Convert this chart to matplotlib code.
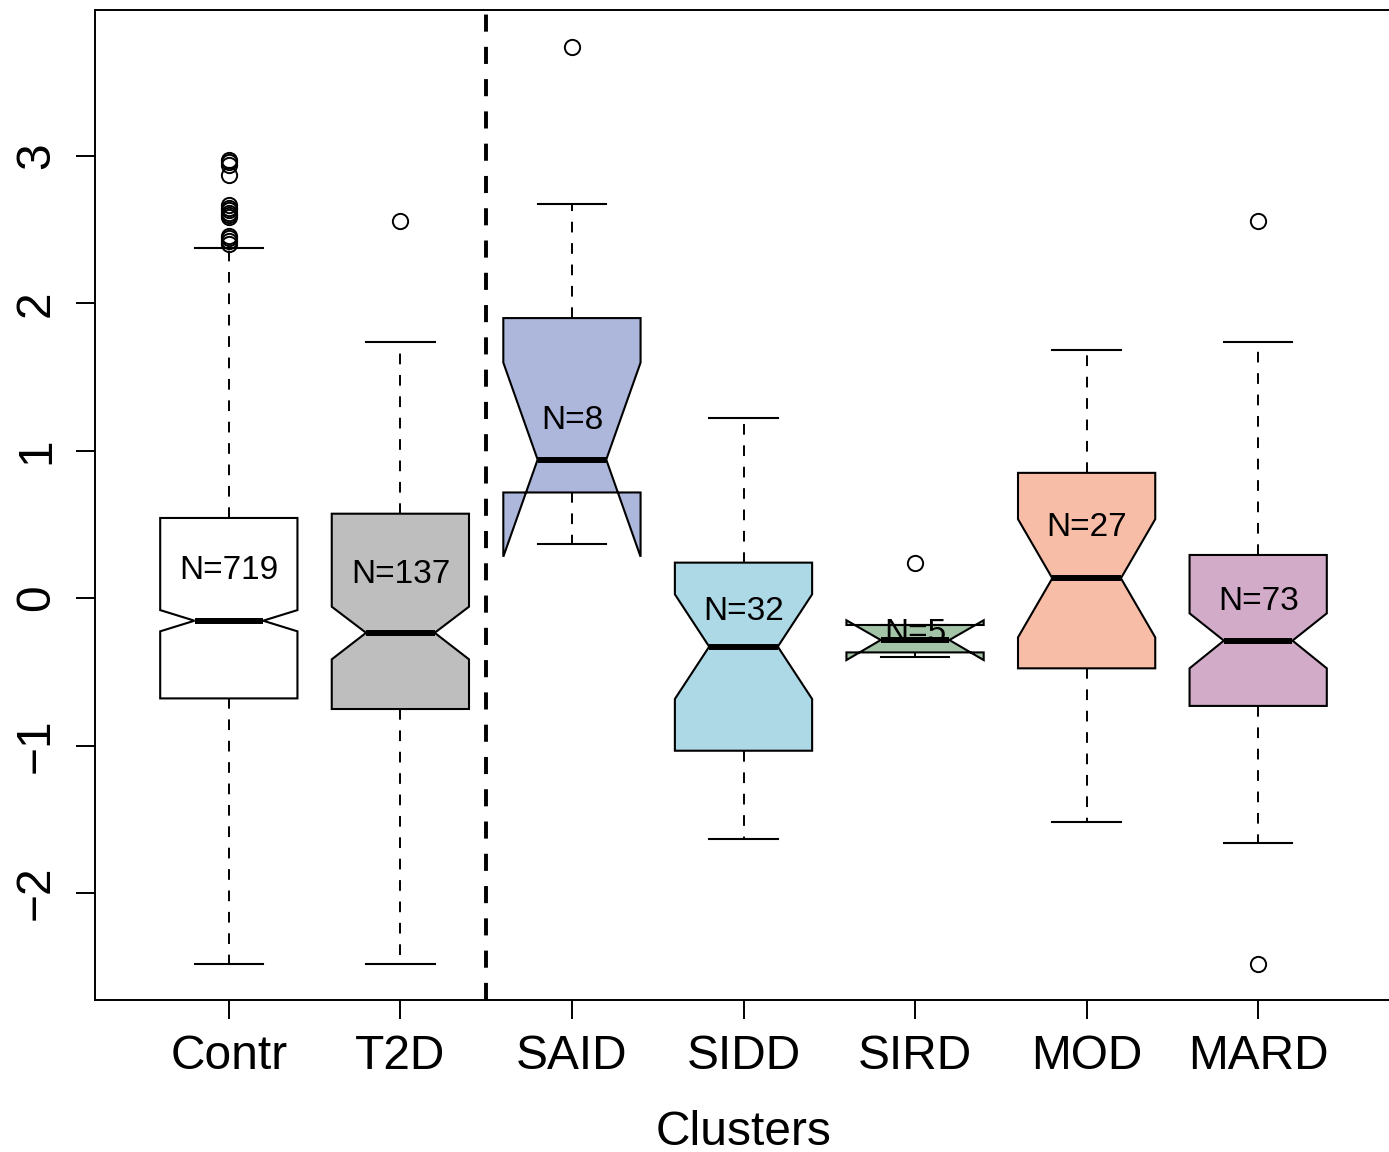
import matplotlib
matplotlib.use("Agg")
import matplotlib.pyplot as plt

# ---- data ----
groups = ["Contr", "T2D", "SAID", "SIDD", "SIRD", "MOD", "MARD"]
n_obs = [719, 137, 8, 32, 5, 27, 73]
whislo = [-2.483, -2.483, 0.368, -1.632, -0.397, -1.518, -1.660]
q1 = [-0.680, -0.752, 0.717, -1.035, -0.368, -0.476, -0.731]
med = [-0.153, -0.235, 0.940, -0.329, -0.284, 0.135, -0.288]
q3 = [0.544, 0.573, 1.900, 0.241, -0.182, 0.850, 0.293]
whishi = [2.378, 1.738, 2.671, 1.222, -0.182, 1.683, 1.740]
cilo = [-0.225, -0.415, 0.281, -0.684, -0.420, -0.266, -0.476]
cihi = [-0.081, -0.058, 1.598, 0.026, -0.150, 0.536, -0.103]
outliers = [
    [2.975, 2.96, 2.94, 2.87, 2.67, 2.65, 2.63, 2.61, 2.60, 2.585,
     2.454, 2.44, 2.42, 2.40],
    [2.558],
    [3.741],
    [],
    [0.241],
    [],
    [2.559, -2.484],
]
label_y = [0.185, 0.158, 1.206, -0.089, -0.24, 0.477, -0.02]
colors = ["#ffffff", "#bebebe", "#adb7dc", "#add8e6", "#a3c4a6", "#f8bda6", "#d2abc8"]
yticks = [-2, -1, 0, 1, 2, 3]

plt.rcParams['font.family'] = ['Liberation Sans', 'DejaVu Sans']

fig = plt.figure(figsize=(13.89, 11.52), dpi=100)
ax = fig.add_axes([95 / 1389, 1 - 1000 / 1152, (1392 - 95) / 1389, (1000 - 10) / 1152])

stats = []
for i, g in enumerate(groups):
    stats.append(dict(label=g, whislo=whislo[i], q1=q1[i], med=med[i], q3=q3[i],
                      whishi=whishi[i], cilo=cilo[i], cihi=cihi[i],
                      fliers=outliers[i]))

positions = list(range(1, len(groups) + 1))
res = ax.bxp(stats, positions=positions, widths=0.8, shownotches=True,
             patch_artist=True,
             boxprops=dict(linewidth=1.5, edgecolor='black'),
             whiskerprops=dict(linestyle=(0, (5.5, 5.5)), linewidth=1.4, color='black'),
             capprops=dict(linewidth=1.5, color='black'),
             medianprops=dict(linewidth=4.3, color='black', solid_capstyle='butt'),
             flierprops=dict(marker='o', markerfacecolor='none',
                             markeredgecolor='black', markersize=11,
                             markeredgewidth=1.4, linestyle='none'))
for patch, c in zip(res['boxes'], colors):
    patch.set_facecolor(c)

for p, n, y in zip(positions, n_obs, label_y):
    ax.text(p, y, f"N={n}", ha='center', va='center', fontsize=24, zorder=6)

ax.axvline(2.5, color='black', linewidth=2.8, linestyle=(0, (4.4, 3.9)), zorder=1)

ax.set_xlim(0.22, 7.78)
ax.set_ylim(-2.726, 3.99)
ax.set_yticks(yticks)
ax.set_yticklabels([str(t).replace('-', '\u2212') for t in yticks])
ax.set_xticks(positions)
ax.set_xticklabels(groups)
ax.tick_params(axis='both', direction='out', length=14, width=1.4, labelsize=34.5)
ax.tick_params(axis='x', pad=10.5)
ax.tick_params(axis='y', pad=12)
for lab in ax.get_yticklabels():
    lab.set_rotation(90)
    lab.set_va('center')
for s in ax.spines.values():
    s.set_linewidth(1.4)
ax.set_xlabel("Clusters", fontsize=34.5, labelpad=22)

fig.savefig("out.png", dpi=100)
